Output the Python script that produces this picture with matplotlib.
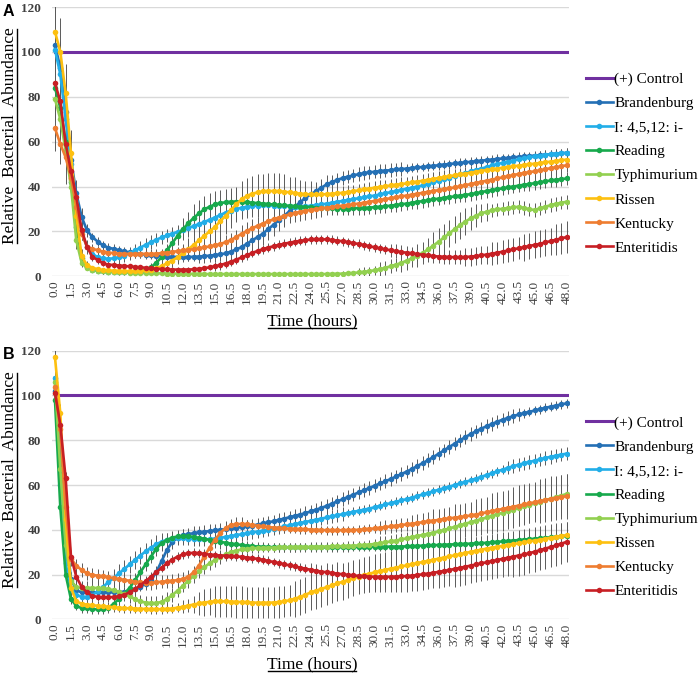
import numpy as np
import matplotlib
matplotlib.use("Agg")
import matplotlib.pyplot as plt
from matplotlib.lines import Line2D

plt.rcParams['font.family'] = ['Liberation Serif', 'DejaVu Serif']

# ---------------- data ----------------
T = np.arange(0, 48.5, 0.5)            # hours, one point every 0.5 h
TICKS = np.arange(0, 48.5, 1.5)
CONTROL = 100

SERIES = ["Brandenburg", "I: 4,5,12: i-", "Reading", "Typhimurium", "Rissen", "Kentucky", "Enteritidis"]
COLORS = ["#2470B5", "#22AEE8", "#17A94C", "#92D050", "#FDC010", "#EE7D31", "#C71F24"]
CONTROL_COLOR = "#7030A0"

# ---- Panel A ----
A_BRANDENBURG = [
    103, 93, 73, 52, 37, 26.5, 20.5, 17.5, 15.5, 13.8, 12.8,
    12.2, 11.6, 11.1, 10.7, 10.3, 10.0, 9.7, 9.5, 9.2, 9.0, 8.8,
    8.7, 8.6, 8.6, 8.6, 8.7, 8.8, 9.0, 9.2, 9.5, 9.8, 10.2,
    11, 12, 13, 14.5, 16, 17.5, 19, 21, 23, 25, 27,
    29, 31, 33, 35, 36.5, 38, 39.5, 41, 42, 43, 43.8,
    44.4, 45, 45.5, 46, 46.3, 46.6, 46.9, 47.1, 47.3, 47.6, 47.8,
    48, 48.3, 48.5, 48.7, 49, 49.2, 49.5, 49.8, 50, 50.3, 50.5,
    50.8, 51, 51.3, 51.5, 51.8, 52, 52.3, 52.5, 52.7, 53, 53.2,
    53.4, 53.6, 53.8, 54, 54.2, 54.4, 54.6, 54.8, 55]
A_I45 = [
    101, 90, 70, 50, 33, 20, 13, 10, 8.5, 8, 7.8,
    8, 8.5, 9.2, 10.2, 11.5, 12.8, 14, 15.2, 16.3, 17.3, 18.2,
    19, 19.8, 20.6, 21.5, 22.4, 23.3, 24.2, 25.2, 26.2, 27.3, 28.4,
    29.3, 30, 30.5, 31, 31.3, 31.5, 31.6, 31.6, 31.5, 31.4, 31.3,
    31.2, 31.1, 31.1, 31.2, 31.4, 31.7, 32, 32.4, 32.8, 33.2, 33.6,
    34, 34.4, 34.8, 35.2, 35.6, 36, 36.5, 37, 37.5, 38, 38.5,
    39, 39.5, 40, 40.5, 41.2, 41.9, 42.6, 43.3, 44, 44.7, 45.4,
    46, 46.7, 47.4, 48, 48.7, 49.4, 50, 50.6, 51.1, 51.6, 52.1,
    52.6, 53, 53.4, 53.8, 54.1, 54.4, 54.6, 54.8, 55]
A_READING = [
    84, 75, 60, 42, 22, 8, 4, 3, 2.5, 2.2, 2,
    2, 2, 2, 2, 2.1, 2.3, 3, 4, 6, 8.5, 11.5,
    14.8, 18, 21, 23.6, 26, 28, 29.8, 31, 32, 32.6, 33,
    33.2, 33.3, 33.2, 33, 32.8, 32.6, 32.4, 32.2, 32, 31.8, 31.6,
    31.4, 31.2, 31, 30.9, 30.8, 30.6, 30.5, 30.4, 30.3, 30.2, 30.2,
    30.2, 30.3, 30.4, 30.5, 30.6, 30.8, 31, 31.2, 31.5, 31.8, 32.1,
    32.4, 32.8, 33.2, 33.5, 33.9, 34.3, 34.6, 35, 35.3, 35.6, 36,
    36.3, 36.6, 37, 37.5, 38, 38.4, 38.8, 39.2, 39.6, 40, 40.4,
    40.8, 41.1, 41.5, 41.9, 42.3, 42.7, 43, 43.3, 43.6]
A_TYPHIMURIUM = [
    79, 70, 56, 40, 16, 6, 3.6, 3, 2.5, 2.2, 2,
    1.9, 1.8, 1.7, 1.6, 1.5, 1.5, 1.4, 1.4, 1.3, 1.3, 1.2,
    1.2, 1.2, 1.1, 1.1, 1.1, 1.1, 1, 1, 1, 1, 1,
    1, 1, 1, 1, 1, 1, 1, 1, 1, 1, 1,
    1, 1, 1, 1, 1, 1, 1, 1, 1.1, 1.1, 1.2,
    1.3, 1.5, 1.7, 2, 2.3, 2.7, 3.2, 3.8, 4.5, 5.2, 6,
    7, 8, 9.2, 10.5, 12, 13.7, 15.5, 17.3, 19.2, 21, 22.8,
    24.4, 25.8, 27, 28, 28.8, 29.4, 29.8, 30.1, 30.4, 30.7, 31,
    30.5, 29.8, 29.6, 30.3, 31, 31.7, 32.3, 32.8, 33.2]
A_RISSEN = [
    109, 100, 81.5, 55, 27, 9, 5, 3.8, 3.2, 2.8, 2.6,
    2.5, 2.4, 2.3, 2.3, 2.3, 2.4, 2.6, 3, 3.6, 4.5, 5.8,
    7, 8.5, 10.2, 12, 14, 16, 18, 20, 22, 24.5, 27,
    29.5, 32, 34.3, 35.8, 36.8, 37.4, 37.8, 38, 38, 37.9, 37.7,
    37.4, 37.1, 36.8, 36.6, 36.5, 36.5, 36.5, 36.6, 36.8, 37, 37.2,
    37.5, 37.9, 38.3, 38.7, 39.1, 39.5, 39.8, 40.1, 40.5, 40.8, 41.1,
    41.4, 41.8, 42.2, 42.6, 43, 43.4, 43.8, 44.2, 44.6, 45, 45.4,
    45.8, 46.2, 46.6, 47, 47.4, 47.7, 48, 48.4, 48.7, 49, 49.3,
    49.6, 49.9, 50.2, 50.5, 50.8, 51.1, 51.4, 51.7, 52]
A_KENTUCKY = [
    66, 59, 53, 44, 31, 19, 13.2, 12.3, 11.6, 11, 10.6,
    10.3, 10.1, 10, 10, 10, 10, 10, 10, 10.1, 10.3, 10.6,
    10.9, 11.2, 11.5, 11.8, 12.1, 12.5, 12.9, 13.3, 13.8, 14.4, 15.2,
    16.2, 17.5, 18.9, 20.2, 21.4, 22.5, 23.5, 24.5, 25.4, 26.2, 26.9,
    27.6, 28.2, 28.7, 29.2, 29.6, 30, 30.3, 30.6, 30.9, 31.2, 31.5,
    31.8, 32.1, 32.4, 32.8, 33.2, 33.6, 34, 34.4, 34.8, 35.2, 35.6,
    36, 36.4, 36.8, 37.2, 37.6, 38, 38.4, 38.8, 39.2, 39.6, 40.1,
    40.6, 41.1, 41.6, 42.1, 42.6, 43.1, 43.6, 44.1, 44.6, 45.1, 45.6,
    46, 46.4, 46.8, 47.2, 47.7, 48.2, 48.6, 49, 49.5]
A_ENTERITIDIS = [
    86, 78, 59, 47, 35.5, 20.6, 13.2, 8.7, 7.3, 5.8, 5.2,
    5, 4.8, 4.6, 4.4, 4.2, 4, 3.8, 3.6, 3.4, 3.2, 3.1,
    3, 3, 3, 3, 3.1, 3.3, 3.6, 4, 4.5, 5, 5.7,
    6.5, 7.4, 8.4, 9.4, 10.4, 11.3, 12.1, 12.8, 13.4, 14, 14.5,
    15, 15.4, 15.8, 16.1, 16.4, 16.5, 16.5, 16.4, 16.2, 15.9, 15.6,
    15.2, 14.8, 14.4, 13.9, 13.4, 12.9, 12.4, 12, 11.6, 11.2, 10.8,
    10.5, 10.2, 9.9, 9.6, 9.3, 9, 8.8, 8.7, 8.6, 8.5, 8.5,
    8.6, 8.8, 9, 9.3, 9.7, 10.1, 10.5, 11, 11.5, 12, 12.5,
    13, 13.5, 14, 14.5, 15.1, 15.7, 16.3, 16.9, 17.5]

A_BRANDENBURG_ERR = [
    18, 12, 10, 8, 6, 4, 3, 2, 2, 2, 2,
    2, 2, 2, 2, 2, 2, 2, 2, 2, 2, 2,
    2, 2, 2, 2, 2, 3, 3, 3, 3, 3, 4,
    4, 4, 5, 5, 5, 5, 5, 5, 5, 5, 5,
    5, 5, 5, 5, 4, 4, 4, 4, 3, 3, 3,
    3, 3, 3, 3, 3, 3, 3, 3, 3, 3, 3,
    2, 2, 2, 2, 2, 2, 2, 2, 2, 2, 2,
    2, 2, 2, 2, 2, 2, 2, 2, 2, 2, 2,
    2, 2, 2, 2, 2, 2, 2, 2, 2]
A_I45_ERR = [
    14, 12, 10, 8, 6, 4, 3, 3, 3, 3, 3,
    3, 3, 3, 3, 3, 3, 3, 3, 3, 3, 3,
    3, 3, 4, 4, 4, 4, 5, 5, 5, 5, 5,
    5, 5, 5, 5, 5, 5, 5, 5, 5, 5, 5,
    5, 5, 4, 4, 4, 4, 4, 3, 3, 3, 3,
    3, 3, 3, 3, 3, 3, 3, 3, 3, 3, 3,
    2, 2, 2, 2, 2, 2, 2, 2, 2, 2, 2,
    2, 2, 2, 2, 2, 2, 2, 2, 2, 2, 2,
    2, 2, 2, 2, 2, 2, 2, 2, 2]
A_READING_ERR = [
    12, 10, 8, 6, 4, 2, 1, 1, 1, 1, 1,
    1, 1, 1, 1, 1, 1, 1, 2, 2, 3, 3,
    4, 4, 5, 5, 6, 6, 6, 6, 6, 6, 6,
    6, 6, 6, 6, 6, 6, 6, 6, 5, 5, 5,
    5, 5, 4, 4, 4, 4, 3, 3, 3, 3, 3,
    3, 3, 3, 3, 3, 3, 3, 3, 3, 3, 3,
    3, 3, 3, 3, 3, 3, 3, 3, 3, 3, 3,
    3, 3, 3, 3, 3, 3, 3, 3, 3, 3, 3,
    3, 3, 3, 3, 3, 3, 3, 3, 3]
A_TYPHIMURIUM_ERR = [
    10, 9, 8, 6, 4, 2, 1, 1, 1, 1, 1,
    1, 1, 1, 1, 1, 1, 1, 1, 1, 1, 1,
    1, 1, 1, 1, 1, 1, 1, 1, 1, 1, 1,
    1, 1, 1, 1, 1, 1, 1, 1, 1, 1, 1,
    1, 1, 1, 1, 1, 1, 1, 1, 1, 1, 1,
    1, 1, 2, 2, 2, 2, 3, 3, 3, 3, 4,
    4, 4, 5, 5, 5, 6, 6, 6, 6, 6, 6,
    6, 5, 5, 4, 4, 3, 3, 3, 3, 3, 3,
    3, 3, 3, 3, 3, 3, 3, 3, 3]
A_RISSEN_ERR = [
    13, 15, 13, 10, 6, 3, 2, 1, 1, 1, 1,
    1, 1, 1, 1, 1, 1, 1, 1, 1, 2, 2,
    3, 3, 4, 5, 6, 7, 7, 8, 8, 8, 8,
    8, 8, 8, 8, 8, 8, 8, 8, 8, 8, 8,
    7, 7, 6, 6, 6, 5, 5, 4, 4, 4, 3,
    3, 3, 3, 3, 3, 3, 3, 3, 3, 3, 3,
    3, 3, 3, 3, 3, 3, 3, 3, 3, 3, 3,
    3, 3, 3, 3, 3, 3, 3, 3, 3, 3, 3,
    3, 3, 3, 3, 3, 3, 3, 3, 3]
A_KENTUCKY_ERR = [
    10, 9, 12, 9, 6, 3, 2, 2, 2, 2, 2,
    2, 2, 2, 2, 2, 2, 2, 2, 2, 2, 2,
    2, 2, 2, 2, 2, 2, 2, 3, 3, 3, 3,
    3, 3, 4, 4, 4, 4, 4, 4, 4, 4, 4,
    4, 4, 4, 4, 4, 4, 4, 3, 3, 3, 3,
    3, 3, 3, 3, 3, 3, 3, 3, 3, 3, 3,
    3, 3, 3, 3, 3, 3, 3, 3, 3, 3, 3,
    3, 3, 3, 3, 3, 3, 3, 3, 3, 3, 3,
    3, 3, 3, 3, 3, 3, 3, 3, 3]
A_ENTERITIDIS_ERR = [
    12, 10, 8, 6, 5, 3, 2, 1, 1, 1, 1,
    1, 1, 1, 1, 1, 1, 1, 1, 1, 1, 1,
    1, 1, 1, 1, 1, 1, 1, 1, 2, 2, 2,
    2, 2, 2, 2, 2, 2, 2, 2, 2, 2, 2,
    2, 2, 2, 2, 2, 2, 2, 2, 2, 2, 2,
    2, 2, 2, 2, 2, 2, 2, 2, 3, 3, 3,
    3, 3, 3, 3, 3, 3, 3, 3, 3, 3, 3,
    4, 4, 4, 4, 4, 5, 5, 5, 5, 5, 5,
    6, 6, 6, 6, 6, 6, 7, 7, 7]

# ---- Panel B ----
B_BRANDENBURG = [
    102, 75, 40, 18, 13, 12, 12, 12, 12, 12, 12,
    12, 12, 12.3, 12.8, 13.5, 14.5, 15.8, 17.5, 21, 26, 31,
    34.5, 36.5, 37.5, 38, 38.5, 38.8, 39.1, 39.4, 39.7, 40, 40.3,
    40.6, 40.9, 41.2, 41.5, 41.9, 42.3, 42.8, 43.3, 43.8, 44.4, 45,
    45.6, 46.2, 46.8, 47.5, 48.2, 49, 49.8, 50.7, 51.7, 52.7, 53.7,
    54.7, 55.7, 56.7, 57.7, 58.7, 59.7, 60.7, 61.7, 62.7, 63.8, 64.9,
    66, 67.2, 68.5, 69.8, 71.1, 72.5, 74, 75.5, 77, 78.5, 80,
    81.4, 82.8, 84, 85.2, 86.3, 87.3, 88.3, 89.2, 90, 90.8, 91.5,
    92.1, 92.7, 93.3, 93.9, 94.5, 95, 95.5, 96, 96.5]
B_I45 = [
    108, 60, 25, 13, 11, 10, 10, 10.8, 12.5, 14.5, 16.5,
    18.5, 20.5, 22.5, 24.5, 26.5, 28.5, 30.3, 32, 33.5, 34.7, 35.5,
    36, 36.2, 36.2, 36, 35.8, 35.7, 35.7, 35.8, 36, 36.4, 36.8,
    37.2, 37.6, 38, 38.4, 38.8, 39.2, 39.6, 40, 40.5, 41, 41.5,
    42, 42.5, 43, 43.5, 44, 44.5, 45, 45.5, 46, 46.5, 47,
    47.5, 48, 48.5, 49, 49.5, 50.1, 50.7, 51.3, 51.9, 52.5, 53.1,
    53.7, 54.4, 55.1, 55.8, 56.5, 57.2, 57.9, 58.6, 59.3, 60, 60.7,
    61.4, 62.1, 62.9, 63.7, 64.5, 65.3, 66.1, 66.9, 67.7, 68.4, 69.1,
    69.7, 70.3, 70.9, 71.5, 72.1, 72.6, 73.1, 73.6, 74]
B_READING = [
    98, 50, 20, 9, 6, 5, 5, 4.5, 4.5, 4.5, 5,
    7, 9, 11.5, 14, 17.5, 21, 24.5, 28, 31.5, 34, 35.5,
    36.5, 37, 37.2, 37.1, 36.8, 36.4, 36, 35.5, 35, 34.6, 34.2,
    33.8, 33.5, 33.2, 32.9, 32.7, 32.5, 32.4, 32.3, 32.2, 32.2, 32.2,
    32.2, 32.1, 32.1, 32.1, 32.2, 32.2, 32.2, 32.1, 32.1, 32.2, 32.2,
    32.2, 32.3, 32.3, 32.3, 32.3, 32.4, 32.4, 32.4, 32.5, 32.5, 32.5,
    32.6, 32.7, 32.8, 32.9, 33, 33.1, 33.2, 33.3, 33.4, 33.5, 33.6,
    33.7, 33.8, 33.9, 34, 34.2, 34.4, 34.6, 34.8, 35, 35.2, 35.4,
    35.6, 35.8, 36, 36.2, 36.4, 36.6, 36.8, 37, 37.2]
B_TYPHIMURIUM = [
    106, 67, 33, 17, 14.5, 14, 14, 14, 14, 13.8, 13.5,
    13, 12.3, 11.3, 10.2, 9, 8, 7.5, 7.2, 7.2, 7.8, 9,
    10.8, 12.8, 15, 17.2, 19.4, 21.5, 23.3, 25, 26.5, 27.8, 29,
    30, 30.7, 31.2, 31.5, 31.7, 31.8, 31.9, 32, 32, 32.1, 32.1,
    32.2, 32.2, 32.3, 32.3, 32.4, 32.4, 32.5, 32.5, 32.6, 32.6, 32.7,
    32.8, 32.9, 33, 33.2, 33.4, 33.7, 34, 34.4, 34.8, 35.2, 35.7,
    36.2, 36.7, 37.2, 37.7, 38.2, 38.7, 39.3, 39.9, 40.6, 41.3, 42,
    42.7, 43.4, 44.1, 44.8, 45.5, 46.2, 46.9, 47.6, 48.3, 49, 49.7,
    50.4, 51.1, 51.8, 52.5, 53.2, 53.9, 54.6, 55.3, 56]
B_RISSEN = [
    117, 92, 45, 14, 8, 7, 6.5, 6.3, 6, 5.8, 5.6,
    5.4, 5.2, 5, 4.9, 4.8, 4.7, 4.6, 4.5, 4.5, 4.5, 4.6,
    4.8, 5.2, 5.6, 6.1, 6.6, 7.1, 7.5, 7.8, 8, 8, 8,
    7.9, 7.8, 7.7, 7.6, 7.5, 7.4, 7.4, 7.4, 7.5, 7.7, 8,
    8.5, 9.2, 10, 11, 12, 12.8, 13.6, 14.4, 15.2, 16, 16.8,
    17.6, 18.4, 19.1, 19.8, 20.4, 21, 21.6, 22.1, 22.6, 23.1, 23.6,
    24.1, 24.6, 25.1, 25.6, 26.1, 26.6, 27.1, 27.6, 28.1, 28.6, 29.1,
    29.6, 30.1, 30.6, 31.1, 31.6, 32, 32.4, 32.8, 33.2, 33.6, 34,
    34.4, 34.8, 35.2, 35.6, 36, 36.4, 36.8, 37.2, 37.6]
B_KENTUCKY = [
    104, 85, 50, 27, 24, 22, 20.5, 19.8, 19.5, 19.2, 18.8,
    18.4, 18, 17.6, 17.2, 16.8, 16.5, 16.3, 16.3, 16.5, 16.8, 17,
    17.2, 17.5, 18, 19, 21, 24, 28, 32, 35.5, 38.5, 40.8,
    42, 42.5, 42.6, 42.4, 42.1, 41.8, 41.5, 41.2, 41, 40.8, 40.6,
    40.5, 40.4, 40.3, 40.2, 40.1, 40, 39.9, 39.8, 39.8, 39.8, 39.8,
    39.8, 39.9, 40, 40.2, 40.4, 40.6, 40.9, 41.2, 41.5, 41.8, 42.1,
    42.4, 42.7, 43, 43.4, 43.8, 44.1, 44.4, 44.8, 45.1, 45.4, 45.7,
    46, 46.4, 46.8, 47.3, 47.8, 48.3, 48.8, 49.3, 49.8, 50.3, 50.8,
    51.3, 51.8, 52.3, 52.8, 53.3, 53.8, 54.2, 54.6, 55]
B_ENTERITIDIS = [
    101, 87, 63, 28, 19, 14.5, 12, 10.5, 10, 9.8, 9.8,
    10, 10.3, 11, 12, 13.5, 15.2, 17, 19, 21, 23, 25,
    26.7, 28, 29, 29.5, 29.7, 29.5, 29.2, 28.9, 28.7, 28.5, 28.4,
    28.3, 28.1, 27.9, 27.6, 27.3, 27, 26.6, 26.1, 25.6, 25.1, 24.6,
    24.1, 23.6, 23.1, 22.6, 22.1, 21.7, 21.3, 21, 20.7, 20.4, 20.1,
    19.8, 19.6, 19.4, 19.2, 19.1, 19, 19, 19, 19, 19.1, 19.2,
    19.3, 19.5, 19.8, 20.1, 20.4, 20.8, 21.2, 21.6, 22, 22.5, 23,
    23.5, 24, 24.5, 25, 25.5, 26, 26.5, 27, 27.5, 28, 28.5,
    29, 29.5, 30.2, 30.9, 31.6, 32.3, 33, 33.8, 34.6]

B_BRANDENBURG_ERR = [
    3, 3, 3, 3, 2, 2, 2, 2, 2, 2, 2,
    2, 2, 2, 2, 2, 2, 2, 2, 3, 3, 3,
    3, 3, 3, 3, 3, 3, 3, 3, 3, 3, 3,
    3, 3, 3, 3, 3, 3, 3, 3, 3, 3, 3,
    3, 3, 3, 3, 3, 3, 3, 3, 3, 3, 3,
    3, 3, 3, 3, 3, 3, 3, 3, 3, 3, 3,
    3, 3, 3, 3, 3, 3, 3, 3, 3, 3, 3,
    3, 3, 3, 3, 3, 3, 3, 3, 3, 3, 3,
    2, 2, 2, 2, 2, 2, 2, 2, 2]
B_I45_ERR = [
    3, 4, 4, 3, 3, 4, 4, 4, 4, 4, 4,
    4, 4, 4, 4, 4, 4, 4, 4, 4, 4, 3,
    3, 3, 3, 3, 3, 3, 3, 3, 3, 3, 3,
    3, 3, 3, 3, 3, 3, 3, 3, 3, 3, 3,
    3, 3, 3, 3, 3, 3, 3, 3, 3, 3, 3,
    2, 2, 2, 2, 2, 2, 2, 2, 2, 2, 2,
    2, 2, 2, 2, 2, 2, 2, 2, 2, 2, 2,
    2, 2, 2, 2, 2, 2, 2, 2, 3, 3, 3,
    3, 3, 3, 3, 3, 3, 3, 3, 3]
B_READING_ERR = [
    3, 3, 3, 2, 2, 2, 2, 2, 2, 2, 2,
    2, 2, 2, 3, 3, 3, 3, 3, 3, 3, 3,
    3, 3, 3, 3, 3, 3, 3, 3, 3, 3, 3,
    2, 2, 2, 2, 2, 2, 2, 2, 2, 2, 2,
    2, 2, 2, 2, 2, 2, 2, 2, 2, 2, 2,
    2, 2, 2, 2, 2, 2, 2, 2, 2, 2, 2,
    2, 2, 2, 2, 2, 2, 2, 2, 2, 3, 3,
    3, 3, 3, 3, 3, 3, 3, 3, 3, 3, 3,
    4, 4, 4, 4, 4, 4, 4, 4, 4]
B_TYPHIMURIUM_ERR = [
    3, 3, 3, 3, 3, 3, 3, 3, 3, 3, 3,
    3, 3, 3, 3, 3, 3, 3, 3, 3, 3, 3,
    3, 3, 3, 3, 3, 3, 3, 3, 3, 3, 3,
    2, 2, 2, 2, 2, 2, 2, 2, 2, 2, 2,
    2, 2, 2, 2, 2, 2, 2, 2, 2, 2, 2,
    2, 2, 2, 2, 2, 2, 3, 3, 3, 3, 3,
    3, 3, 4, 4, 4, 5, 5, 5, 6, 6, 6,
    6, 7, 7, 7, 7, 8, 8, 8, 8, 8, 8,
    8, 8, 8, 8, 9, 9, 9, 9, 9]
B_RISSEN_ERR = [
    4, 4, 4, 2, 2, 2, 2, 2, 2, 2, 2,
    2, 2, 2, 2, 2, 2, 2, 2, 2, 2, 2,
    2, 2, 3, 3, 4, 5, 6, 6, 7, 7, 7,
    7, 7, 7, 7, 7, 7, 7, 7, 7, 7, 7,
    7, 8, 8, 8, 8, 8, 8, 8, 8, 8, 8,
    8, 8, 8, 8, 8, 8, 8, 8, 8, 8, 8,
    7, 7, 7, 7, 7, 7, 7, 7, 6, 6, 6,
    6, 6, 6, 6, 6, 6, 6, 6, 6, 6, 6,
    6, 6, 6, 6, 6, 6, 6, 6, 6]
B_KENTUCKY_ERR = [
    3, 3, 3, 3, 3, 3, 3, 3, 3, 3, 3,
    3, 3, 3, 3, 3, 3, 3, 3, 3, 3, 3,
    3, 3, 3, 3, 3, 3, 3, 3, 3, 3, 3,
    3, 3, 3, 2, 2, 2, 2, 2, 2, 2, 2,
    2, 2, 2, 2, 2, 2, 2, 2, 2, 2, 2,
    2, 2, 2, 2, 2, 2, 3, 3, 3, 3, 3,
    3, 4, 4, 4, 4, 5, 5, 5, 5, 6, 6,
    6, 6, 7, 7, 7, 8, 8, 8, 8, 9, 9,
    9, 9, 9, 10, 10, 10, 10, 10, 10]
B_ENTERITIDIS_ERR = [
    3, 3, 3, 3, 3, 2, 2, 2, 2, 2, 2,
    2, 2, 2, 2, 2, 2, 2, 2, 2, 2, 2,
    2, 2, 2, 2, 2, 2, 2, 2, 2, 2, 2,
    2, 2, 2, 2, 2, 2, 2, 2, 2, 2, 2,
    2, 2, 2, 2, 3, 3, 3, 4, 4, 5, 5,
    5, 6, 6, 6, 7, 7, 7, 7, 7, 7, 7,
    7, 7, 7, 7, 7, 7, 7, 7, 7, 8, 8,
    8, 8, 8, 8, 8, 8, 8, 8, 8, 9, 9,
    9, 9, 9, 9, 9, 9, 9, 9, 9]

PANEL_A = [A_BRANDENBURG, A_I45, A_READING, A_TYPHIMURIUM, A_RISSEN, A_KENTUCKY, A_ENTERITIDIS]
PANEL_A_ERR = [A_BRANDENBURG_ERR, A_I45_ERR, A_READING_ERR, A_TYPHIMURIUM_ERR, A_RISSEN_ERR, A_KENTUCKY_ERR, A_ENTERITIDIS_ERR]
PANEL_B = [B_BRANDENBURG, B_I45, B_READING, B_TYPHIMURIUM, B_RISSEN, B_KENTUCKY, B_ENTERITIDIS]
PANEL_B_ERR = [B_BRANDENBURG_ERR, B_I45_ERR, B_READING_ERR, B_TYPHIMURIUM_ERR, B_RISSEN_ERR, B_KENTUCKY_ERR, B_ENTERITIDIS_ERR]

for arr in PANEL_A + PANEL_A_ERR + PANEL_B + PANEL_B_ERR:
    assert len(arr) == len(T), len(arr)

# ---------------- figure ----------------
W, H = 700, 674
fig = plt.figure(figsize=(W / 100, H / 100), dpi=100)


def fx(px):
    return px / W


def fy(py):
    return 1 - py / H


LW = 1.9
MS = 4.0


def make_panel(top_px, bottom_px, data, errs):
    ax = fig.add_axes([fx(52), fy(bottom_px), fx(569) - fx(52), fy(top_px) - fy(bottom_px)])
    ax.plot([T[0], T[-1]], [CONTROL, CONTROL], color=CONTROL_COLOR, lw=2.2, zorder=3)
    for vals, err, col in zip(data, errs, COLORS):
        ax.errorbar(T, vals, yerr=err, fmt='-o', color=col, lw=LW, ms=MS, mew=0,
                    ecolor='#5a5a5a', elinewidth=0.7, capsize=2, capthick=0.7, zorder=3)
    ax.set_xlim(-0.28, 48.22)
    ax.set_ylim(0, 120)
    ax.set_yticks(np.arange(0, 121, 20))
    ax.set_xticks(TICKS)
    ax.set_xticklabels([f"{v:.1f}" for v in TICKS], rotation=90, fontsize=9.5, color='#404040')
    for lab in ax.get_yticklabels():
        lab.set_fontweight('bold')
        lab.set_fontsize(9.5)
        lab.set_color('#404040')
    ax.tick_params(length=0, axis='y', pad=8)
    ax.tick_params(length=0, axis='x', pad=3)
    for s in ax.spines.values():
        s.set_visible(False)
    ax.yaxis.grid(True, color='#d9d9d9', lw=1.0, zorder=0)
    ax.set_axisbelow(True)
    handles = [Line2D([], [], color=CONTROL_COLOR, lw=2.2)] + \
              [Line2D([], [], color=c, lw=LW, marker='o', ms=MS, mew=0) for c in COLORS]
    return ax, handles


axA, hA = make_panel(7, 276.3, PANEL_A, PANEL_A_ERR)
axB, hB = make_panel(350.7, 619.3, PANEL_B, PANEL_B_ERR)

labels = ["(+) Control"] + SERIES
for ax, h, cy in [(axA, hA, 163.5), (axB, hB, 507)]:
    ax.legend(h, labels, loc='center left', bbox_to_anchor=(fx(586), fy(cy)),
              bbox_transform=fig.transFigure, frameon=False, fontsize=11,
              handlelength=1.75, handletextpad=0.1, labelspacing=0.68,
              borderaxespad=0, borderpad=0)

# panel letters
fig.text(fx(3), fy(16), "A", fontsize=11.5, fontweight='bold', family='Liberation Sans', va='baseline')
fig.text(fx(3), fy(359), "B", fontsize=11.5, fontweight='bold', family='Liberation Sans', va='baseline')

# axis titles (underlined)
texts = []
for cy in (136, 480):
    texts.append((fig.text(fx(10), fy(cy), "Relative  Bacterial  Abundance", rotation=90,
                           ha='center', va='center', fontsize=12.5), True))
for by in (325, 668):
    texts.append((fig.text(fx(312), fy(by), "Time (hours)", ha='center', va='baseline',
                           fontsize=12.5), False))

fig.canvas.draw()
r = fig.canvas.get_renderer()
inv = fig.transFigure.inverted()
for t, vertical in texts:
    bb = t.get_window_extent(r)
    if vertical:
        x = bb.x1 - 1.0
        p0 = inv.transform((x, bb.y0 + 1))
        p1 = inv.transform((x, bb.y1 - 1))
    else:
        y = bb.y0 + 1.5
        p0 = inv.transform((bb.x0 + 1, y))
        p1 = inv.transform((bb.x1 - 1, y))
    fig.add_artist(Line2D([p0[0], p1[0]], [p0[1], p1[1]], transform=fig.transFigure,
                          color='black', lw=1.0))

fig.savefig("out.png", dpi=100)
